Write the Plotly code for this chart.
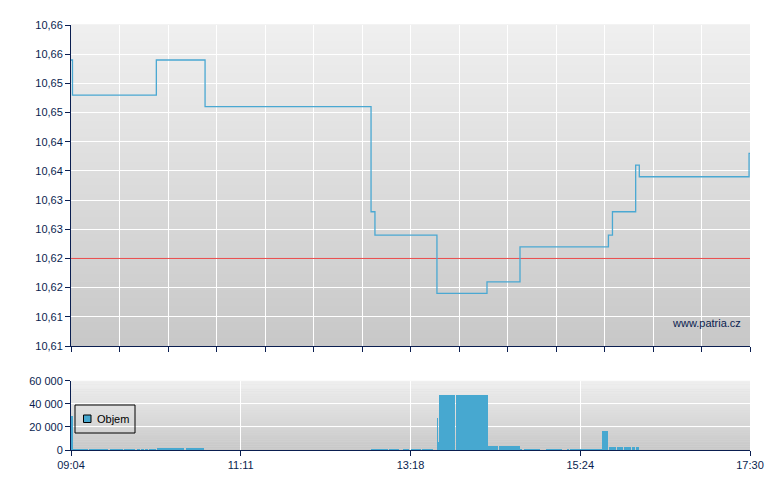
import plotly.graph_objects as go

# ---------------- data ----------------
# price steps: time (HH:MM:SS) and price
price_times = ["09:04:00", "09:05:06", "10:07:36", "10:43:54", "12:47:36", "12:50:30",
               "13:36:42", "14:14:00", "14:38:36", "15:44:30", "15:47:30", "16:04:48",
               "16:07:30", "17:29:18", "17:30:00"]
price_values = [10.654, 10.648, 10.654, 10.646, 10.628, 10.624,
                10.614, 10.616, 10.622, 10.624, 10.628, 10.636,
                10.634, 10.638, 10.638]
prev_close = 10.62

# volume bars: start / end (minutes since midnight) and volume
vol_start = [544.0, 544.75, 557.6, 573.1, 583.5, 593.0, 596.4, 598.9, 602.1, 607.9, 629.5,
             767.6, 781.2, 791.4, 797.4, 805.6, 816.8, 817.4, 818.2, 830.9, 854.7, 863.0,
             878.8, 881.6, 898.0, 913.9, 916.1, 940.2, 941.4, 942.9, 945.1, 950.6, 956.3,
             961.8, 965.1]
vol_end = [544.75, 556.9, 571.8, 582.5, 591.9, 595.4, 598.4, 601.4, 607.1, 628.4, 643.3,
           780.5, 788.7, 795.7, 804.6, 813.5, 817.3, 818.0, 830.2, 854.5, 862.2, 878.4,
           879.9, 893.5, 909.7, 915.1, 939.9, 941.0, 942.5, 944.4, 950.1, 955.6, 961.1,
           964.1, 967.1]
vol_values = [29500, 1200, 1200, 1200, 1200, 1200, 1200, 1200, 1200, 2100, 2100,
              1000, 1000, 1000, 1000, 1000, 27800, 7000, 48000, 48000, 3500, 3500,
              1000, 1000, 1000, 1000, 1000, 16500, 16500, 16500, 2600, 2600, 2600,
              2600, 2600]

price_tick_vals = [10.605, 10.61, 10.615, 10.62, 10.625, 10.63, 10.635, 10.64, 10.645, 10.65, 10.655, 10.66]
price_tick_text = ["10,61", "10,61", "10,62", "10,62", "10,63", "10,63", "10,64", "10,64", "10,65", "10,65", "10,66", "10,66"]
vol_tick_vals = [0, 20000, 40000, 60000]
vol_tick_text = ["0", "20 000", "40 000", "60 000"]
time_tick_text = ["09:04", "11:11", "13:18", "15:24", "17:30"]

T0, T1 = 544, 1050  # 09:04 .. 17:30


def to_min(s):
    h, m, sec = s.split(":")
    return int(h) * 60 + int(m) + int(sec) / 60


px = [to_min(t) for t in price_times]

NAVY = "#0a1e50"
FAM = "Liberation Sans, Arial, sans-serif"
FONT = dict(family=FAM, size=11, color=NAVY)
BAR_BLUE = "#47a8d0"

fig = go.Figure()

# previous close line
fig.add_trace(go.Scatter(x=[T0, T1], y=[prev_close, prev_close], mode="lines",
                         line=dict(color="#e84a4a", width=1), showlegend=False,
                         xaxis="x", yaxis="y", hoverinfo="skip"))
# price line
fig.add_trace(go.Scatter(x=px, y=price_values, mode="lines", line_shape="hv",
                         line=dict(color="#4aa8d2", width=1.3), showlegend=False,
                         xaxis="x", yaxis="y"))
# volume
fig.add_trace(go.Bar(x=vol_start, y=vol_values,
                     width=[e - s for s, e in zip(vol_start, vol_end)],
                     offset=0, marker=dict(color=BAR_BLUE, line=dict(width=0)),
                     name="Objem", showlegend=False, xaxis="x2", yaxis="y2"))

# gradient backgrounds
shapes = []
N = 40
for ax_x, ax_y in (("x", "y"), ("x2", "y2")):
    for i in range(N):
        f = i / (N - 1)
        c = int(200 + (239 - 200) * f)
        shapes.append(dict(type="rect", xref=f"{ax_x} domain", yref=f"{ax_y} domain",
                           x0=0, x1=1, y0=i / N, y1=(i + 1) / N + 0.002,
                           fillcolor=f"rgb({c},{c},{c})", line=dict(width=0),
                           layer="below"))

# legend-like box (Objem)
PW, PH = 679.0, 425.0  # plot area size in px (paper units)
def pxx(x):
    return (x - 71) / PW
def pxy(y):
    return (450 - y) / PH

shapes.append(dict(type="rect", xref="paper", yref="paper",
                   x0=pxx(75), x1=pxx(135), y0=pxy(433), y1=pxy(405),
                   line=dict(color="black", width=1), fillcolor="rgba(0,0,0,0)",
                   layer="above"))
shapes.append(dict(type="rect", xref="paper", yref="paper",
                   x0=pxx(83.5), x1=pxx(91), y0=pxy(422.5), y1=pxy(415),
                   line=dict(color="black", width=1), fillcolor=BAR_BLUE,
                   layer="above"))

time_ticks = [T0 + k * (T1 - T0) / 4 for k in range(5)]

fig.update_layout(
    width=780, height=490,
    margin=dict(l=71, r=30, t=25, b=40),
    paper_bgcolor="white", plot_bgcolor="#dcdcdc",
    font=FONT,
    shapes=shapes,
    bargap=0,
    showlegend=False,
    xaxis=dict(domain=[0, 1], anchor="y", range=[T0, T1], tick0=T0, dtick=(T1 - T0) / 14,
               showticklabels=False, ticks="outside", ticklen=5, tickcolor=NAVY,
               showgrid=True, gridcolor="white", gridwidth=1,
               showline=True, linecolor=NAVY, linewidth=1, zeroline=False),
    yaxis=dict(domain=[0.2447, 1], anchor="x", range=[10.605, 10.66],
               tickvals=price_tick_vals, ticktext=price_tick_text,
               ticks="outside", ticklen=5, tickcolor=NAVY,
               showgrid=True, gridcolor="white", gridwidth=1,
               showline=True, linecolor=NAVY, linewidth=1, zeroline=False),
    xaxis2=dict(domain=[0, 1], anchor="y2", range=[T0, T1],
                tickvals=time_ticks, ticktext=time_tick_text,
                ticks="outside", ticklen=5, tickcolor=NAVY,
                showgrid=True, gridcolor="white", gridwidth=1,
                showline=True, linecolor=NAVY, linewidth=1, zeroline=False),
    yaxis2=dict(domain=[0, 0.1624], anchor="x2", range=[0, 60000],
                tickvals=vol_tick_vals, ticktext=vol_tick_text,
                ticks="outside", ticklen=5, tickcolor=NAVY,
                showgrid=True, gridcolor="white", gridwidth=1,
                showline=True, linecolor=NAVY, linewidth=1, zeroline=False),
    annotations=[
        dict(text="www.patria.cz", xref="x domain", yref="y domain",
             x=0.9897, y=0.072, xanchor="right", yanchor="middle",
             showarrow=False, font=dict(family=FAM, size=11, color=NAVY)),
        dict(text="Objem", xref="paper", yref="paper",
             x=pxx(95), y=pxy(419), xanchor="left", yanchor="middle",
             showarrow=False, font=dict(family=FAM, size=11, color="black")),
    ],
)

fig.write_html("out.html", config={"displayModeBar": False},
               post_script="document.body.style.margin='0';")
